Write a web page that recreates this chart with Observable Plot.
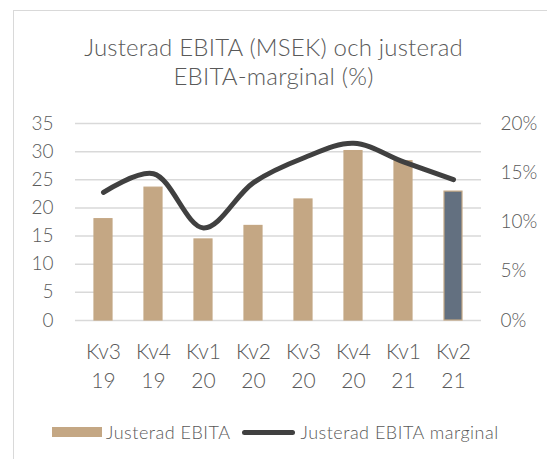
<!DOCTYPE html>
<html>
<head>
<meta charset="utf-8">
<script src="https://cdn.jsdelivr.net/npm/d3@7"></script>
<script src="https://cdn.jsdelivr.net/npm/@observablehq/plot@0.6"></script>
<style>
  body { margin: 0; background: #fff; }
  #wrap { position: relative; width: 547px; height: 459px; overflow: hidden; background: #fff; font-family: Lato, sans-serif; font-weight: 300; color: #595959; }
  #frame { position: absolute; left: 13px; top: 10px; width: 700px; height: 700px; border: 1px solid #d9d9d9; box-sizing: border-box; }
  #title { position: absolute; left: 0; width: 547px; top: 32px; text-align: center; font-size: 24px; line-height: 29px; letter-spacing: 0.2px; }
  #chart { position: absolute; left: 0; top: 0; }
  #legend { position: absolute; top: 421px; left: 52px; font-size: 18px; line-height: 22px; letter-spacing: 0.5px; display: flex; align-items: center; white-space: nowrap; }
  .sw-bar { width: 50px; height: 10px; background: #c4a784; margin-right: 4px; }
  .sw-line { width: 53px; height: 5px; border-radius: 3px; background: #404040; margin-left: 12px; margin-right: 5px; }
</style>
</head>
<body>
<div id="wrap">
  <div id="frame"></div>
  <div id="title">Justerad EBITA (MSEK) och justerad<br>EBITA-marginal (%)</div>
  <div id="chart"></div>
  <div id="legend"><div class="sw-bar"></div><span>Justerad EBITA</span><div class="sw-line"></div><span>Justerad EBITA marginal</span></div>
</div>
<script>
const quarters = ["Kv3", "Kv4", "Kv1", "Kv2", "Kv3", "Kv4", "Kv1", "Kv2"];
const years = ["19", "19", "20", "20", "20", "20", "21", "21"];
const ebita = [18.0, 23.6, 14.4, 16.8, 21.5, 30.1, 28.3, 22.9];
const margin = [13.0, 14.9, 9.4, 14.0, 16.5, 18.0, 16.1, 14.3];
const leftTicks = [0, 5, 10, 15, 20, 25, 30, 35];
const rightTicks = [0, 5, 10, 15, 20];

const scaleRatio = 35 / 20;
const labels = quarters.map((q, i) => q + "\n" + years[i]);
const data = labels.map((l, i) => ({label: l, ebita: ebita[i], margin: margin[i], last: i === labels.length - 1}));

const plot = Plot.plot({
  width: 547,
  height: 400,
  marginLeft: 75,
  marginRight: 66,
  marginTop: 123,
  marginBottom: 80,
  style: {fontFamily: "Lato, sans-serif", fontWeight: 300, color: "#595959", background: "transparent", overflow: "visible"},
  x: {domain: labels, paddingInner: 0.65, paddingOuter: 0.325, align: 0.5},
  y: {domain: [0, 35]},
  marks: [
    Plot.gridY(leftTicks, {stroke: "#d9d9d9", strokeOpacity: 1, strokeWidth: 1.5}),
    Plot.barY(data, {x: "label", y: "ebita", fill: d => d.last ? "#637080" : "#c4a784", stroke: "#c4a784", strokeWidth: 1.2}),
    Plot.line(data, {x: "label", y: d => d.margin * scaleRatio, stroke: "#404040", strokeWidth: 5, curve: "catmull-rom", strokeLinecap: "round"}),
    Plot.axisY(leftTicks, {anchor: "left", tickSize: 0, tickPadding: 22, fontSize: 19, label: null}),
    Plot.axisY(rightTicks.map(v => v * scaleRatio), {anchor: "right", tickSize: 0, tickPadding: 19, fontSize: 19, label: null, tickFormat: v => Math.round(v / scaleRatio) + "%"}),
    Plot.axisX({tickSize: 0, tickPadding: 18, fontSize: 21, lineHeight: 1.38, label: null})
  ]
});
document.getElementById("chart").appendChild(plot);
</script>
</body>
</html>
